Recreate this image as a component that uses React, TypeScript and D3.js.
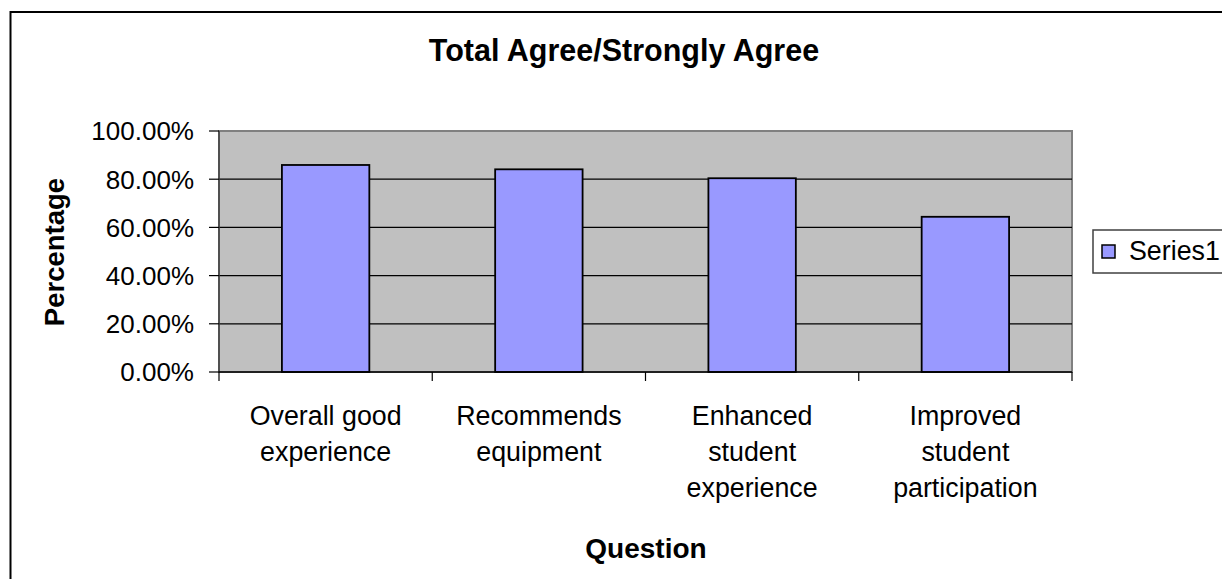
import React from "react";
import * as d3 from "d3";

const categories: string[][] = [
  ["Overall good", "experience"],
  ["Recommends", "equipment"],
  ["Enhanced", "student", "experience"],
  ["Improved", "student", "participation"],
];
const values: number[] = [0.859, 0.841, 0.804, 0.644];
const yTicks: number[] = [0, 0.2, 0.4, 0.6, 0.8, 1.0];
const title = "Total Agree/Strongly Agree";
const yTitle = "Percentage";
const xTitle = "Question";
const seriesName = "Series1";

const W = 1222;
const H = 579;
const plot = { left: 219, right: 1072, top: 131, bottom: 372 };
const FONT = "'Liberation Sans', Arial, sans-serif";

export default function App() {
  const x = d3
    .scaleBand<number>()
    .domain(categories.map((_, i) => i))
    .range([plot.left, plot.right])
    .padding(0);
  const y = d3.scaleLinear().domain([0, 1]).range([plot.bottom, plot.top]);
  const bw = x.bandwidth() * 0.41;
  const fmt = d3.format(".2%");

  return (
    <svg
      width={W}
      height={H}
      style={{ position: "absolute", left: 0, top: 0, background: "#fff" }}
      fontFamily={FONT}
    >
      <rect x={0} y={0} width={W} height={H} fill="#fff" />
      {/* outer chart border */}
      <rect x={10.5} y={12} width={W + 20} height={H + 20} fill="none" stroke="#000" strokeWidth={2} />
      {/* title */}
      <text x={624} y={61} textAnchor="middle" fontSize={30.5} fontWeight="bold" fill="#000">
        {title}
      </text>
      {/* plot area */}
      <rect
        x={plot.left}
        y={plot.top}
        width={plot.right - plot.left}
        height={plot.bottom - plot.top}
        fill="#C0C0C0"
        stroke="#808080"
        strokeWidth={2}
      />
      {/* gridlines */}
      {yTicks.slice(1, -1).map((t) => (
        <line key={"g" + t} x1={plot.left} x2={plot.right} y1={y(t)} y2={y(t)} stroke="#000" strokeWidth={1.2} />
      ))}
      {/* y axis */}
      <line x1={plot.left} x2={plot.left} y1={plot.top} y2={plot.bottom} stroke="#404040" strokeWidth={1.5} />
      {yTicks.map((t) => (
        <g key={"yt" + t}>
          <line x1={plot.left - 10} x2={plot.left} y1={y(t)} y2={y(t)} stroke="#000" strokeWidth={1.2} />
          <text x={194} y={y(t)} dy="0.36em" textAnchor="end" fontSize={26} fill="#000">
            {fmt(t)}
          </text>
        </g>
      ))}
      {/* bars */}
      {values.map((v, i) => (
        <rect
          key={"b" + i}
          x={(x(i) as number) + (x.bandwidth() - bw) / 2}
          y={y(v)}
          width={bw}
          height={y(0) - y(v)}
          fill="#9999FF"
          stroke="#000"
          strokeWidth={1.8}
        />
      ))}
      {/* x axis */}
      <line x1={plot.left} x2={plot.right} y1={plot.bottom} y2={plot.bottom} stroke="#000" strokeWidth={1.5} />
      {categories.map((_, i) => (
        <line
          key={"xt" + i}
          x1={x(i) as number}
          x2={x(i) as number}
          y1={plot.bottom}
          y2={plot.bottom + 9}
          stroke="#000"
          strokeWidth={1.2}
        />
      ))}
      <line x1={plot.right} x2={plot.right} y1={plot.bottom} y2={plot.bottom + 9} stroke="#000" strokeWidth={1.2} />
      {categories.map((lines, i) => (
        <text
          key={"xl" + i}
          x={(x(i) as number) + x.bandwidth() / 2}
          y={425}
          textAnchor="middle"
          fontSize={26.8}
          fill="#000"
        >
          {lines.map((l, j) => (
            <tspan key={j} x={(x(i) as number) + x.bandwidth() / 2} dy={j === 0 ? 0 : 36}>
              {l}
            </tspan>
          ))}
        </text>
      ))}
      {/* axis titles */}
      <text x={646} y={558} textAnchor="middle" fontSize={28} fontWeight="bold" fill="#000">
        {xTitle}
      </text>
      <text
        transform={`translate(64,252) rotate(-90)`}
        textAnchor="middle"
        fontSize={27.5}
        fontWeight="bold"
        fill="#000"
      >
        {yTitle}
      </text>
      {/* legend */}
      <rect x={1093} y={230} width={200} height={43} fill="#fff" stroke="#404040" strokeWidth={1.5} />
      <rect x={1102} y={245} width={13} height={13} fill="#9999FF" stroke="#000" strokeWidth={1.5} />
      <text x={1129} y={260} fontSize={26.8} fill="#000">
        {seriesName}
      </text>
    </svg>
  );
}
